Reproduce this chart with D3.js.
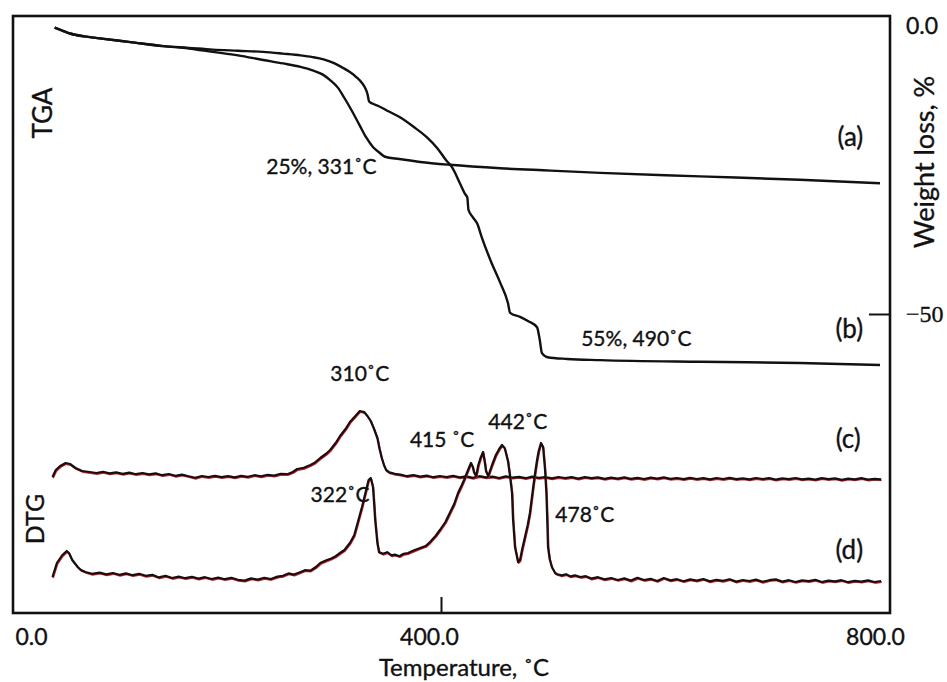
<!DOCTYPE html>
<html>
<head>
<meta charset="utf-8">
<script src="https://cdn.jsdelivr.net/npm/d3@7/dist/d3.min.js"></script>
<style>
  html, body { margin: 0; padding: 0; background: #fff; }
  svg { display: block; }
  text { font-family: Lato, "Open Sans", "DejaVu Sans", sans-serif; fill: #111; stroke: #111; stroke-width: 0.35px; }
</style>
</head>
<body>
<svg id="chart" width="947" height="682"></svg>
<script>
// ---- Data -------------------------------------------------------------
// Temperature ticks (°C) and weight-loss ticks (%)
const tempTicks = [0, 400, 800];
const weightTicks = [0, -50];

// TGA curves: [temperature °C, weight change %]
const tgaA = [
  [48,-0.3],[55,-0.8],[62,-1.3],[75,-1.8],[87,-2.1],[117,-2.8],[147,-3.5],[170,-3.9],
  [192,-4.5],[215,-5.1],[238,-5.9],[256,-6.5],[272,-7.1],[283,-7.7],[292,-8.4],[299,-9.4],
  [306,-10.7],[312,-12.5],[319,-14.8],[326,-17.3],[332,-19.4],[338,-21.0],[344,-22.0],
  [349,-22.7],[362,-23.1],[381,-23.6],[408,-24.1],[454,-24.7],[500,-25.1],[545,-25.5],
  [636,-26.1],[727,-26.7],[800,-27.3]
];
const tgaB = [
  [48,-0.3],[55,-0.8],[62,-1.3],[75,-1.8],[87,-2.1],[117,-2.8],[147,-3.5],[170,-3.8],
  [192,-4.1],[215,-4.3],[238,-4.5],[256,-4.8],[272,-5.1],[283,-5.4],[293,-5.8],[302,-6.4],
  [310,-7.2],[317,-8.0],[323,-8.9],[328,-9.9],[331,-10.8],[333,-11.8],[334.5,-13.1],
  [338,-13.5],[342,-13.8],[352,-14.8],[363,-15.9],[375,-17.5],[387,-19.3],[397,-21.3],
  [405,-23.4],[410,-24.5],[417,-27.2],[422,-29.2],[424,-29.8],[425,-31.9],[429,-33.2],
  [433,-34.3],[437,-36.6],[446,-41.1],[454,-44.6],[461,-48.1],[463,-49.8],[472,-50.5],
  [480,-51.3],[487.5,-52.3],[490,-54.5],[492,-56.8],[497,-57.5],[515,-57.8],[545,-58.0],
  [636,-58.3],[727,-58.5],[800,-58.85]
];

// DTG curves: [temperature °C, signal (a.u., stacked)]
const dtgC = [
  [46,68],[49,71.5],[53,73.5],[58,75],[62,74.5],[67,72.5],[73,71],[80,70.5],[86,70],[92,70.6],
  [98,69.8],[104,70.3],[110,69.6],[116,70.2],[122,69.4],[128,70],[134,69.3],[140,69.8],
  [146,68.9],[152,69.5],[158,68.6],[164,69.2],[170,68.4],[176,67.6],[182,68.5],[188,68],
  [194,68.6],[200,67.9],[206,68.4],[212,67.8],[218,68.6],[224,68.1],[230,68.9],[236,68.3],
  [242,69.1],[248,68.7],[254,69.6],[260,69.4],[265,70.5],[269,72],[275,72.6],[281,74],
  [285,75.2],[290,77.5],[295,79.5],[299,81.5],[304,85],[308,88.5],[313,92],[317,95.5],
  [322,98.5],[326,101],[330,100.5],[333,98.5],[336,96],[339,92],[342,87.5],[344,82],
  [346,77.5],[348,74],[350,71.5],[353,70.3],[358,69.6],[363,69.2],[369,68.4],[375,68.9],
  [381,68.2],[387,68.7],[393,67.9],[399,68.5],[405,68],[411,68.6],[417,67.8],[423,68.3],
  [429,67.6],[435,68.4],[441,67.8],[447,68.2],[453,67.5],[459,68.3],[465,67.7],[471,68.1],
  [477,67.4],[483,68.2],[489,67.6],[495,68],[501,67.3],[507,68],[513,67.5],[519,67.9],
  [525,67.2],[531,67.9],[537,67.4],[543,67.8],[549,67.1],[555,67.7],[561,67.2],[567,67.8],
  [573,67.1],[579,67.6],[585,67],[591,67.7],[597,67.2],[603,67.8],[609,67.1],[615,67.5],
  [621,66.9],[627,67.6],[633,67],[639,67.4],[645,66.8],[651,67.5],[657,67],[663,67.6],
  [669,66.9],[675,67.3],[681,66.8],[687,67.5],[693,67],[699,67.4],[705,66.7],[711,67.3],
  [717,66.9],[723,67.5],[729,66.8],[735,67.2],[741,66.7],[747,67.4],[753,66.9],[759,67.3],
  [765,66.6],[771,67.2],[777,66.8],[783,67.4],[789,66.7],[795,67.1],[801,66.8]
];
const dtgD = [
  [46,18],[50,25],[55,29],[59,31],[61,30],[64,26.5],[69,23],[72,21.5],[76,20.5],[82,19.6],
  [89,20.2],[95,19.3],[101,20],[107,19.1],[113,19.8],[119,18.9],[125,19.6],[131,18.6],
  [137,19.1],[143,17.8],[149,18.6],[155,17.5],[161,18.2],[167,17.4],[173,18.1],[179,17.2],
  [185,17.9],[191,17],[197,17.7],[203,16.9],[209,17.6],[215,16.6],[221,16.2],[227,17.3],
  [233,16.7],[239,17.6],[245,17],[251,18.2],[256,18.6],[261,19.8],[266,19.2],[271,20.3],
  [276,21.4],[281,21.2],[286,23],[290,25],[295,26.2],[300,27.3],[304,28.4],[308,30],
  [312,31.5],[317,35],[321,39],[324,45],[326,49],[328,53],[330,57.5],[332,62],[334,66.5],
  [336,67.5],[338,63],[339,55],[340,46.5],[342,35],[343.5,30.5],[347,29.6],[351,30.4],
  [355,28.8],[358,29.2],[362,28.4],[366,29.6],[370,30],[375,31.2],[381,32.5],[386,33.5],
  [390,35.5],[395,38.5],[399,41.5],[404,45.5],[408,50],[412,54.5],[415.5,60],[419,64],
  [421,66.5],[425,72],[427.3,75],[429,73],[430,70.5],[432,68.5],[434,74],[436,77.5],
  [438.3,80.5],[440,75],[441,71],[443,68.5],[446.5,74],[450,79],[453,82],[455.6,84],
  [458,82.5],[461,76],[463,68],[464.7,60],[465.6,47],[467.4,33],[470.2,25.5],[472,26.5],
  [474,32],[476.5,38],[479,44],[481,50],[484,63],[486,71],[487.5,76.5],[489,81],[491.1,85],
  [493,83],[494.8,71.5],[496,60],[496.6,50],[497.5,33],[499,27],[501,23],[504,20],[506,19.4],
  [510,18.8],[514,19.4],[518,18.3],[522,18.8],[527,18],[532,18.4],[537,17.2],[543,17.9],
  [549,16.8],[555,17.5],[561,16.5],[567,17.3],[573,16.2],[579,17.6],[585,16.5],[591,17.1],
  [597,16],[603,17.5],[609,16.3],[615,16.9],[621,15.9],[627,16.8],[633,16.2],[639,17],
  [645,15.8],[651,16.6],[657,16.1],[663,16.9],[669,15.7],[675,16.5],[681,16],[687,16.7],
  [693,15.6],[699,16.4],[705,16.8],[711,15.7],[717,16.4],[723,15.5],[729,16.3],[735,15.9],
  [741,16.6],[747,15.5],[753,16.2],[759,15.8],[765,16.4],[771,15.4],[777,16.1],[783,15.7],
  [789,16.3],[795,15.5],[801,16]
];

// Annotations on the TGA panel: [text, temperature, weight %]
const tgaNotes = [
  ["25%, 331˚C", 291, -24.2],
  ["55%, 490˚C", 578, -54.0],
  ["(a)", 773, -19.1],
  ["(b)", 772, -52.4]
];
// Annotations on the DTG panel: [text, temperature, signal]
const dtgNotes = [
  ["(c)", 771, 87.5],
  ["(d)", 772, 32],
  ["310˚C", 326, 120.5],
  ["415 ˚C", 401, 87.5],
  ["442˚C", 470, 96.5],
  ["322˚C", 308, 60],
  ["478˚C", 531, 50]
];

// ---- Layout -----------------------------------------------------------
const frame = { left: 13, top: 16, right: 890, bottom: 613 };

const x = d3.scaleLinear().domain([0, 800]).range([2, 880]);
const yW = d3.scaleLinear().domain([0, -50]).range([26, 314]);
const yD = d3.scaleLinear().domain([0, 100]).range([613, 413]);

const svg = d3.select("#chart");

// plot frame
svg.append("rect")
  .attr("x", frame.left).attr("y", frame.top)
  .attr("width", frame.right - frame.left)
  .attr("height", frame.bottom - frame.top)
  .attr("fill", "none").attr("stroke", "#111").attr("stroke-width", 2.6);

// ---- Curves -----------------------------------------------------------
const tgaLine = d3.line().x(d => x(d[0])).y(d => yW(d[1])).curve(d3.curveMonotoneX);
const dtgLine = d3.line().x(d => x(d[0])).y(d => yD(d[1])).curve(d3.curveLinear);

[tgaA, tgaB].forEach(s => {
  svg.append("path").datum(s).attr("d", tgaLine)
    .attr("fill", "none").attr("stroke", "#111").attr("stroke-width", 2.4)
    .attr("stroke-linejoin", "round");
});

[dtgC, dtgD].forEach(s => {
  // red trace underneath, with the black trace drawn over it
  svg.append("path").datum(s).attr("d", dtgLine)
    .attr("transform", "translate(0.6,1)")
    .attr("fill", "none").attr("stroke", "#e0202a").attr("stroke-width", 1.8)
    .attr("stroke-linejoin", "round");
  svg.append("path").datum(s).attr("d", dtgLine)
    .attr("fill", "none").attr("stroke", "#111").attr("stroke-width", 2.2)
    .attr("stroke-linejoin", "round");
});

// ---- Axes -------------------------------------------------------------
const xAxis = d3.axisBottom(x)
  .tickValues(tempTicks)
  .tickFormat(d3.format(".1f"))
  .tickSizeInner(-16).tickSizeOuter(0).tickPadding(16);
const gx = svg.append("g").attr("transform", `translate(0,${frame.bottom})`).call(xAxis);
gx.select(".domain").remove();
gx.selectAll(".tick line").attr("stroke", "#111").attr("stroke-width", 2)
  .attr("display", d => d === 400 ? null : "none");
const xLabelShift = { 0: 29, 400: -12, 800: -5 };
gx.selectAll(".tick text")
  .attr("dx", d => xLabelShift[d])
  .style("font-size", "23px").style("font-family", "Lato, sans-serif").attr("fill", "#111");

const yAxis = d3.axisRight(yW)
  .tickValues(weightTicks)
  .tickFormat(d => d === 0 ? "0.0" : "\u221250")
  .tickSizeInner(-21).tickSizeOuter(0).tickPadding(16);
const gy = svg.append("g").attr("transform", `translate(${frame.right},0)`).call(yAxis);
gy.select(".domain").remove();
gy.selectAll(".tick line").attr("stroke", "#111").attr("stroke-width", 2)
  .attr("display", d => d === -50 ? null : "none");
gy.selectAll(".tick text")
  .attr("fill", "#111")
  .style("font-size", d => d === 0 ? "23px" : "24px")
  .style("font-family", d => d === 0 ? "Lato, sans-serif" : "'Liberation Serif', 'Times New Roman', serif");

// axis titles
svg.append("text")
  .attr("x", 464).attr("y", 676)
  .attr("text-anchor", "middle")
  .style("font-size", "24px")
  .text("Temperature, ˚C");

svg.append("text")
  .attr("transform", "translate(923,162) rotate(-90)")
  .attr("text-anchor", "middle").attr("dominant-baseline", "central")
  .style("font-size", "27px")
  .text("Weight loss, %");

svg.append("text")
  .attr("transform", "translate(42,113) rotate(-90)")
  .attr("text-anchor", "middle").attr("dominant-baseline", "central")
  .style("font-size", "26px")
  .text("TGA");

svg.append("text")
  .attr("transform", "translate(34,519) rotate(-90)")
  .attr("text-anchor", "middle").attr("dominant-baseline", "central")
  .style("font-size", "25px")
  .text("DTG");

// ---- Annotations ------------------------------------------------------
const isPanelTag = t => t.startsWith("(");

svg.append("g").selectAll("text").data(tgaNotes).join("text")
  .attr("x", d => x(d[1])).attr("y", d => yW(d[2]))
  .attr("text-anchor", "middle").attr("dominant-baseline", "central")
  .style("font-size", d => isPanelTag(d[0]) ? "26px" : "21px")
  .text(d => d[0]);

svg.append("g").selectAll("text").data(dtgNotes).join("text")
  .attr("x", d => x(d[1])).attr("y", d => yD(d[2]))
  .attr("text-anchor", "middle").attr("dominant-baseline", "central")
  .style("font-size", d => isPanelTag(d[0]) ? "26px" : "21px")
  .text(d => d[0]);
</script>
</body>
</html>
